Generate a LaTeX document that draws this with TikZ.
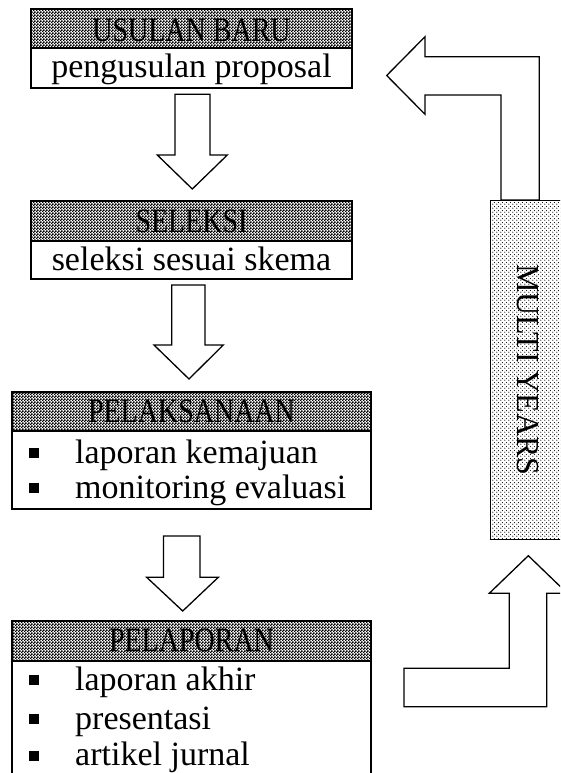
\documentclass[tikz,border=0pt]{standalone}
\usepackage{fontspec}
\setmainfont{Liberation Serif}
\usetikzlibrary{patterns}
\pgfdeclarepatternformonly{checkerfine}{\pgfqpoint{0pt}{0pt}}{\pgfqpoint{3pt}{3pt}}{\pgfqpoint{3pt}{3pt}}{%
  \pgfpathrectangle{\pgfqpoint{0pt}{0pt}}{\pgfqpoint{1.9pt}{1.9pt}}%
  \pgfpathrectangle{\pgfqpoint{1.5pt}{1.5pt}}{\pgfqpoint{1.9pt}{1.9pt}}%
  \pgfusepath{fill}}
\pgfdeclarepatternformonly{dotsfine}{\pgfqpoint{0pt}{0pt}}{\pgfqpoint{4pt}{4pt}}{\pgfqpoint{4pt}{4pt}}{%
  \pgfpathcircle{\pgfqpoint{1pt}{1pt}}{0.7pt}%
  \pgfpathcircle{\pgfqpoint{3pt}{3pt}}{0.7pt}%
  \pgfusepath{fill}}
\begin{document}
\begin{tikzpicture}[x=1pt,y=-1pt,
  box/.style={draw, line width=2pt, inner sep=0pt, outer sep=0pt, anchor=north west},
  hdr/.style={box, pattern=checkerfine},
  htext/.style={anchor=base, inner sep=0pt, font=\fontsize{28}{30}\selectfont},
  btext/.style={anchor=base, inner sep=0pt, font=\fontsize{34}{36}\selectfont},
  ltext/.style={anchor=base west, inner sep=0pt, font=\fontsize{34}{36}\selectfont},
  bulletsq/.style={fill=black, minimum size=9.5pt, inner sep=0pt},
  blockarrow/.style={draw, line width=1.3pt, fill=white, line join=miter}]
\clip (0,0) rectangle (560,773);
\fill[white] (0,0) rectangle (560,773);

% box 1
\node[box, minimum width=321pt, minimum height=40pt] (b1) at (31,48) {};
\node[hdr, minimum width=321pt, minimum height=39pt] (h1) at (31,9) {};
\node[htext] (t1) at (191.5,41.7) {\scalebox{1}[1.22]{USULAN BARU}};
\node[btext] (p1) at (191.5,77.3) {pengusulan proposal};

% box 2
\node[box, minimum width=321pt, minimum height=38pt] (b2) at (31,241) {};
\node[hdr, minimum width=321pt, minimum height=40pt] (h2) at (31,201) {};
\node[htext] (t2) at (191.5,232.3) {\scalebox{1}[1.22]{SELEKSI}};
\node[btext] (p2) at (191.5,270) {seleksi sesuai skema};

% box 3
\node[box, minimum width=359pt, minimum height=77.5pt] (b3) at (12,431) {};
\node[hdr, minimum width=359pt, minimum height=39pt] (h3) at (12,392) {};
\node[htext] (t3) at (191.5,422.7) {\scalebox{1}[1.22]{PELAKSANAAN}};
\node[bulletsq] (q31) at (34,453) {};
\node[ltext] (l31) at (75,463) {laporan kemajuan};
\node[bulletsq] (q32) at (34,488) {};
\node[ltext] (l32) at (75,498) {monitoring evaluasi};

% box 4
\node[box, minimum width=359pt, minimum height=140pt] (b4) at (12,661) {};
\node[hdr, minimum width=359pt, minimum height=40pt] (h4) at (12,621) {};
\node[htext] (t4) at (191.5,651.7) {\scalebox{1}[1.22]{PELAPORAN}};
\node[bulletsq] (q41) at (34,680) {};
\node[ltext] (l41) at (75,690.7) {laporan akhir};
\node[bulletsq] (q42) at (34,719) {};
\node[ltext] (l42) at (75,729) {presentasi};
\node[bulletsq] (q43) at (34,756) {};
\node[ltext] (l43) at (75,765.3) {artikel jurnal};

% down arrows
\draw[blockarrow] (175,94.3) -- (210,94.3) -- (210,155) -- (227.3,155) -- (192.3,189)
  -- (157.3,155) -- (175,155) -- cycle;
\draw[blockarrow] (171.7,285) -- (205,285) -- (205,345) -- (223.3,345) -- (189,379)
  -- (154,345) -- (171.7,345) -- cycle;
\draw[blockarrow] (163.5,536) -- (200,536) -- (200,577.3) -- (218.3,577.3) -- (182.7,611)
  -- (146.7,577.3) -- (163.5,577.3) -- cycle;

% bent arrow back to top
\draw[blockarrow] (386.7,75.5) -- (425,36.7) -- (425,56.7) -- (539.3,56.7) -- (539.3,200)
  -- (501,200) -- (501,95) -- (425,95) -- (425,114.3) -- cycle;
% bent arrow up from bottom
\draw[blockarrow] (528.3,555.7) -- (567.3,593.3) -- (546.7,593.3) -- (546.7,706.7)
  -- (404,706.7) -- (404,668.3) -- (509.3,668.3) -- (509.3,593.3) -- (489.3,593.3) -- cycle;

% multi years
\node[draw, line width=1pt, pattern=dotsfine, inner sep=0pt, outer sep=0pt, anchor=north west,
  minimum width=75pt, minimum height=339pt] (my) at (490.5,200) {};
\node[rotate=-90, inner sep=0pt, font=\fontsize{32}{34}\selectfont] (myt) at (527.5,370) {MULTI YEARS};
\end{tikzpicture}
\end{document}
